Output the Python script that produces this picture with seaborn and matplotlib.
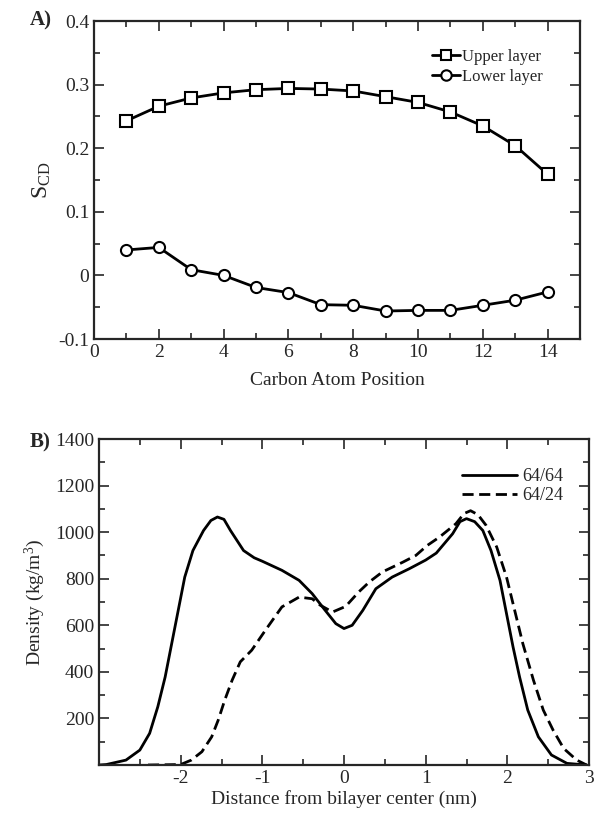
import numpy as np
import pandas as pd
import matplotlib
matplotlib.use("Agg")
import matplotlib.pyplot as plt
import seaborn as sns
from matplotlib.ticker import MultipleLocator, FixedLocator, FuncFormatter

# ---- Panel A data ----
carbon = list(range(1, 15))
upper = [0.243, 0.266, 0.279, 0.287, 0.292, 0.294, 0.293, 0.290, 0.281, 0.272, 0.257, 0.235, 0.204, 0.159]
lower = [0.040, 0.044, 0.009, 0.000, -0.019, -0.027, -0.046, -0.047, -0.056, -0.055, -0.055, -0.047, -0.039, -0.026]

# ---- Panel B data ----
x64_64 = [-3.0, -2.91, -2.67, -2.5, -2.38, -2.28, -2.19, -2.11, -2.03, -1.95, -1.85, -1.72, -1.63, -1.55,
          -1.47, -1.39, -1.23, -1.10, -1.0, -0.76, -0.55, -0.39, -0.23, -0.10, 0.0, 0.10, 0.23, 0.39, 0.59,
          0.80, 1.0, 1.13, 1.33, 1.42, 1.5, 1.6, 1.70, 1.80, 1.91, 1.99, 2.07, 2.15, 2.25, 2.38, 2.54, 2.73, 2.97]
d64_64 = [0, 2, 21, 64, 136, 250, 378, 521, 664, 807, 921, 1007, 1050, 1065,
          1055, 1007, 921, 890, 875, 836, 793, 736, 664, 607, 586, 600, 664, 757, 807,
          843, 880, 910, 993, 1045, 1058, 1045, 1007, 921, 793, 650, 507, 378, 236, 121, 43, 7, 0]
x64_24 = [-2.4, -2.0, -1.87, -1.74, -1.62, -1.54, -1.46, -1.37, -1.27, -1.13, -0.96, -0.76, -0.55, -0.39,
          -0.29, -0.14, 0.02, 0.18, 0.31, 0.47, 0.72, 0.88, 1.02, 1.17, 1.37, 1.47, 1.55, 1.64, 1.74, 1.87,
          1.99, 2.09, 2.19, 2.32, 2.44, 2.56, 2.69, 2.85, 2.97]
d64_24 = [0, 2, 21, 57, 121, 193, 279, 364, 443, 493, 580, 679, 721, 714,
          686, 657, 681, 743, 786, 829, 871, 900, 943, 979, 1036, 1080, 1092, 1075, 1029, 936,
          807, 664, 521, 364, 236, 150, 71, 21, 0]

sns.set_style("ticks")
plt.rcParams['font.family'] = ['Liberation Serif', 'DejaVu Serif']
plt.rcParams['mathtext.fontset'] = 'custom'
plt.rcParams['mathtext.rm'] = 'Liberation Serif'
plt.rcParams['mathtext.it'] = 'Liberation Serif:italic'
plt.rcParams['axes.unicode_minus'] = False
plt.rcParams['axes.linewidth'] = 1.6
plt.rcParams['xtick.direction'] = 'in'
plt.rcParams['ytick.direction'] = 'in'

fig = plt.figure(figsize=(5.94, 8.15), dpi=100)
W, H = 594.0, 815.0
axA = fig.add_axes([94 / W, 1 - 339 / H, (580 - 94) / W, (339 - 21) / H])
axB = fig.add_axes([99 / W, 1 - 765 / H, (589 - 99) / W, (765 - 439) / H])

dfA = pd.DataFrame({
    "pos": carbon + carbon,
    "scd": upper + lower,
    "layer": ["Upper layer"] * len(carbon) + ["Lower layer"] * len(carbon),
})
sns.lineplot(data=dfA, x="pos", y="scd", style="layer", hue="layer",
             palette={"Upper layer": "black", "Lower layer": "black"},
             markers={"Upper layer": "s", "Lower layer": "o"},
             dashes=False, markersize=8, markerfacecolor="white",
             markeredgecolor="black", markeredgewidth=1.5, linewidth=2.0, ax=axA)
axA.set_xlim(0, 15)
axA.set_ylim(-0.1, 0.4)
axA.xaxis.set_major_locator(FixedLocator([0, 2, 4, 6, 8, 10, 12, 14]))
axA.xaxis.set_minor_locator(MultipleLocator(1))
axA.yaxis.set_major_locator(MultipleLocator(0.1))
axA.yaxis.set_minor_locator(MultipleLocator(0.05))
axA.yaxis.set_major_formatter(FuncFormatter(lambda v, p: "0" if abs(v) < 1e-9 else f"{v:.1f}"))
axA.set_xlabel("Carbon Atom Position", fontsize=14, labelpad=8)
axA.set_ylabel(r"S$_{\mathrm{CD}}$", fontsize=17, labelpad=4)
legA = axA.legend(loc="upper right", frameon=False, fontsize=12, handlelength=1.7,
                  handletextpad=0.15, labelspacing=0.25, bbox_to_anchor=(0.955, 0.96))
for h in legA.legend_handles:
    h.set_markerfacecolor("white")
    h.set_markeredgecolor("black")
    h.set_markersize(7.5)

dfB = pd.DataFrame({
    "z": x64_64 + x64_24,
    "dens": d64_64 + d64_24,
    "sys": ["64/64"] * len(x64_64) + ["64/24"] * len(x64_24),
})
sns.lineplot(data=dfB, x="z", y="dens", style="sys", hue="sys",
             palette={"64/64": "black", "64/24": "black"},
             dashes={"64/64": "", "64/24": (4, 2)}, linewidth=2.0, ax=axB, sort=True)
axB.set_xlim(-3, 3)
axB.set_ylim(0, 1400)
axB.xaxis.set_major_locator(FixedLocator([-2, -1, 0, 1, 2, 3]))
axB.xaxis.set_minor_locator(MultipleLocator(0.5))
axB.yaxis.set_major_locator(FixedLocator([200, 400, 600, 800, 1000, 1200, 1400]))
axB.yaxis.set_minor_locator(MultipleLocator(100))
axB.set_xlabel("Distance from bilayer center (nm)", fontsize=14, labelpad=2)
axB.set_ylabel(r"Density (kg/m$^3$)", fontsize=14, labelpad=6)
axB.legend(loc="upper right", frameon=False, fontsize=13, handlelength=3.0,
           handletextpad=0.3, labelspacing=0.1, bbox_to_anchor=(0.98, 0.96))

for ax in (axA, axB):
    ax.tick_params(which="both", top=True, right=True, direction="in", labelsize=14, width=1.2)
    ax.tick_params(which="major", length=7)
    ax.tick_params(which="minor", length=4)

fig.text(30 / W, 1 - 20 / H, "A)", fontsize=15, fontweight="bold", ha="left", va="center")
fig.text(30 / W, 1 - 442 / H, "B)", fontsize=15, fontweight="bold", ha="left", va="center")

fig.savefig("out.png", dpi=100)
